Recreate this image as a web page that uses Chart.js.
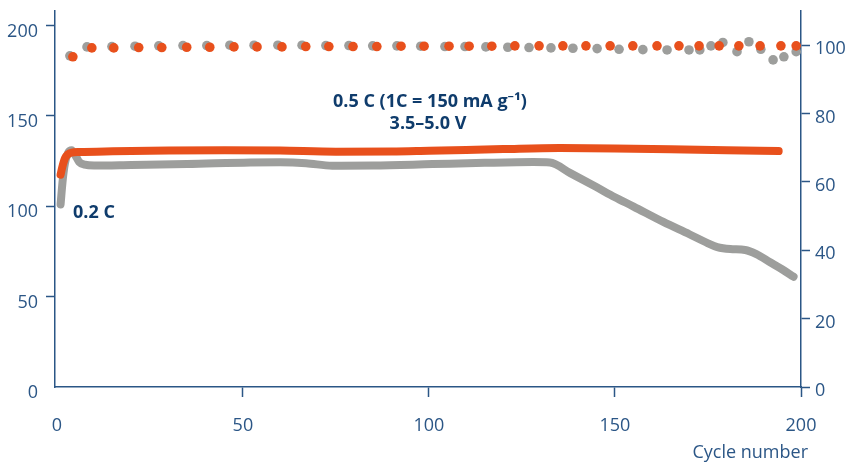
<!DOCTYPE html>
<html>
<head>
<meta charset="utf-8">
<script src="https://cdn.jsdelivr.net/npm/chart.js@4"></script>
<style>
  body { margin: 0; background: #fff; }
  canvas { display: block; }
</style>
</head>
<body>
<canvas id="cycling" width="849" height="463"></canvas>
<script>
// discharge capacity, grey cell (left axis)
const greyCapCycles = [1, 1.6, 2.2, 3, 4, 5, 6, 7.5, 10, 20, 35, 52, 60, 67, 74, 85, 101, 115, 128, 132.5, 138, 145, 150, 155, 163, 170, 175, 177.5, 181, 185, 188, 191.7, 195, 198];
const greyCap = [101, 115, 124, 129.5, 131, 128, 124.5, 123, 122.5, 122.8, 123.3, 124.2, 124.3, 123.8, 122.4, 122.5, 123.3, 124, 124.4, 124.2, 118.3, 110.6, 105, 99.8, 91.3, 84.5, 79.5, 77.4, 76.3, 75.8, 73.5, 69, 65, 61];

// discharge capacity, orange cell (left axis)
const orangeCapCycles = [1, 1.5, 2.2, 3, 4, 6, 15, 30, 45, 60, 75, 90, 100, 110, 120, 135, 150, 165, 180, 194];
const orangeCap = [117.5, 122, 126.6, 128.8, 129.7, 130, 130.4, 130.8, 131, 130.8, 130.2, 130.3, 130.7, 131.1, 131.6, 132.2, 132, 131.5, 131, 130.5];

// coulombic efficiency (right axis)
const greyCeCycles = [3.5, 8.1, 14.8, 21, 27.4, 33.9, 40.3, 46.5, 53, 59.4, 65.9, 72.3, 78.5, 84.9, 91.4, 97.8, 104.3, 109.7, 115.3, 121.2, 126.9, 132.8, 138.7, 145.2, 151.1, 157.5, 164, 169.9, 172.8, 175.8, 179, 182.8, 186, 189.2, 192.5, 195.4, 198.7];
const greyCe = [96.9, 99.5, 99.6, 99.7, 99.8, 99.9, 99.9, 100, 100, 100, 100, 99.9, 99.9, 99.8, 99.8, 99.7, 99.6, 99.6, 99.5, 99.4, 99.3, 99.2, 99.1, 99.0, 98.8, 98.7, 98.6, 98.6, 98.6, 99.8, 100.8, 98.1, 101.0, 98.8, 95.7, 96.6, 98.1];
const orangeCeCycles = [4.3, 9.4, 15.3, 22, 28.2, 34.9, 41.1, 47.6, 53.8, 60.5, 66.9, 73.1, 79.6, 86, 92.5, 98.7, 105.4, 110.8, 116.9, 123.1, 129.6, 136, 142.2, 148.7, 154.8, 161.3, 167.2, 172.6, 178, 183.3, 189, 194.6, 198.7];
const orangeCe = [96.6, 99.2, 99.2, 99.3, 99.3, 99.4, 99.4, 99.5, 99.5, 99.5, 99.6, 99.6, 99.6, 99.6, 99.7, 99.7, 99.7, 99.7, 99.7, 99.8, 99.8, 99.8, 99.8, 99.8, 99.8, 99.8, 99.8, 99.8, 99.8, 99.8, 99.8, 99.8, 99.8];

const xTicks = [0, 50, 100, 150, 200];
const leftTicks = [0, 50, 100, 150, 200];
const rightTicks = [0, 20, 40, 60, 80, 100];

const ORANGE = '#e8501c';
const GREY = '#9d9e9c';
const AXIS = '#2b5686';
const NAVY = '#0f3c6c';
const FONT = "'Open Sans', 'Noto Sans', sans-serif";

function pts(xs, ys) {
  return xs.map((x, i) => ({x: x, y: ys[i]}));
}

function keepTicks(list) {
  return (scale) => { scale.ticks = list.map(v => ({value: v})); };
}

const annotations = {
  id: 'annotations',
  afterDraw(chart) {
    const c = chart.ctx;
    c.save();
    c.fillStyle = NAVY;
    c.font = "bold 18px " + FONT;
    c.textAlign = 'center';
    c.textBaseline = 'middle';
    c.fillText('0.5 C (1C = 150 mA g\u207B\u00B9)', 430, 102);
    c.fillText('3.5\u20135.0 V', 428, 124);
    c.textAlign = 'left';
    c.fillText('0.2 C', 73, 213);
    // axis title, right aligned a little past the plot edge
    c.fillStyle = AXIS;
    c.font = "18px " + FONT;
    c.textAlign = 'right';
    c.fillText('Cycle number', 808, 453);
    c.restore();
  }
};

const ctx = document.getElementById('cycling');
new Chart(ctx, {
  type: 'line',
  data: {
    datasets: [
      {
        label: 'CE grey',
        data: pts(greyCeCycles, greyCe),
        yAxisID: 'y1',
        showLine: false,
        pointRadius: 4.8,
        pointBackgroundColor: GREY,
        pointBorderWidth: 0,
        order: 4
      },
      {
        label: 'CE orange',
        data: pts(orangeCeCycles, orangeCe),
        yAxisID: 'y1',
        showLine: false,
        pointRadius: 4.8,
        pointBackgroundColor: ORANGE,
        pointBorderWidth: 0,
        order: 3
      },
      {
        label: 'Capacity grey',
        data: pts(greyCapCycles, greyCap),
        yAxisID: 'y',
        borderColor: GREY,
        borderWidth: 8,
        borderCapStyle: 'round',
        borderJoinStyle: 'round',
        cubicInterpolationMode: 'monotone',
        pointRadius: 0,
        order: 2
      },
      {
        label: 'Capacity orange',
        data: pts(orangeCapCycles, orangeCap),
        yAxisID: 'y',
        borderColor: ORANGE,
        borderWidth: 8,
        borderCapStyle: 'round',
        borderJoinStyle: 'round',
        cubicInterpolationMode: 'monotone',
        pointRadius: 0,
        order: 1
      }
    ]
  },
  options: {
    responsive: false,
    animation: false,
    devicePixelRatio: 1,
    layout: { padding: { top: 11, left: 0, right: 0, bottom: 0 } },
    plugins: { legend: { display: false }, tooltip: { enabled: false } },
    scales: {
      x: {
        type: 'linear',
        min: -0.5,
        max: 200,
        afterBuildTicks: keepTicks(xTicks),
        afterFit: (s) => { s.height = 76; s.paddingLeft = 0; s.paddingRight = 0; },
        border: { color: AXIS, width: 1.5 },
        grid: {
          drawOnChartArea: false,
          tickLength: 10,
          tickWidth: 1.5,
          tickColor: (c) => c.tick && c.tick.value === 0 ? 'rgba(0,0,0,0)' : AXIS
        },
        ticks: { color: AXIS, padding: 18, font: { family: FONT, size: 18 }, maxRotation: 0 }
      },
      y: {
        position: 'left',
        min: 0,
        max: 208,
        afterBuildTicks: keepTicks(leftTicks),
        afterFit: (s) => { s.width = 55; s.paddingTop = 0; s.paddingBottom = 0; },
        border: { color: AXIS, width: 1.5 },
        grid: {
          drawOnChartArea: false,
          tickLength: 9,
          tickWidth: 1.5,
          tickColor: (c) => c.tick && c.tick.value === 0 ? 'rgba(0,0,0,0)' : AXIS
        },
        ticks: { color: AXIS, padding: 8, labelOffset: 6, font: { family: FONT, size: 18 } }
      },
      y1: {
        position: 'right',
        min: 0,
        max: 110,
        afterBuildTicks: keepTicks(rightTicks),
        afterFit: (s) => { s.width = 48; s.paddingTop = 0; s.paddingBottom = 0; },
        border: { color: AXIS, width: 1.5 },
        grid: { drawOnChartArea: false, tickLength: 9, tickWidth: 1.5, tickColor: AXIS },
        ticks: { color: AXIS, padding: 5, labelOffset: 4, font: { family: FONT, size: 18 } }
      }
    }
  },
  plugins: [annotations]
});
</script>
</body>
</html>
